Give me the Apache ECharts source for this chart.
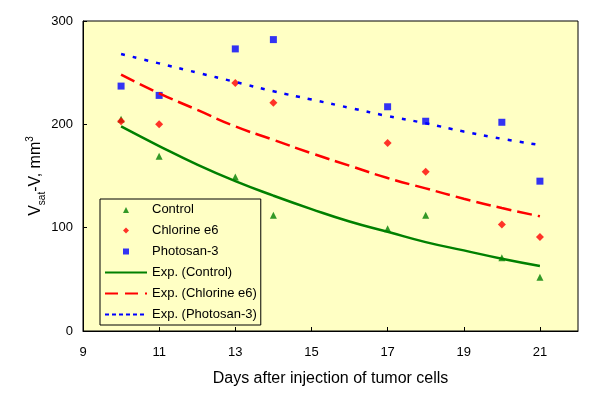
<!DOCTYPE html>
<html>
<head>
<meta charset="utf-8">
<script src="https://cdn.jsdelivr.net/npm/echarts@6/dist/echarts.min.js"></script>
<style>
  html, body { margin: 0; padding: 0; background: #fff; }
  #chart { width: 600px; height: 399px; }
</style>
</head>
<body>
<div id="chart"></div>
<script>
// measured points (day, volume)
var days = [10, 11, 13, 14, 17, 18, 20, 21];
var control = [205, 169, 149, 112, 99, 112, 71, 52];
var chlorine = [203, 200, 240, 221, 182, 154, 103, 91];
var photosan = [237, 228, 273, 282, 217, 203, 202, 145];

// exponential trend lines, one value per day
var trendDays = [10, 11, 12, 13, 14, 15, 16, 17, 18, 19, 20, 21];
var expControl = [198, 179, 161, 145, 131, 118, 106, 96, 86, 78, 70, 63];
var expChlorine = [248, 230, 214, 198, 185, 172, 160, 148, 138, 128, 119, 111];
var expPhotosan = [268, 259, 250, 241, 232, 224, 216, 208, 201, 193, 186, 180];

var xTicks = [9, 11, 13, 15, 17, 19, 21];

function pairs(xs, ys) {
  return xs.map(function (x, i) { return [x, ys[i]]; });
}

// legend markers: the two bare moveTo points span the whole 42x7 icon box,
// so the small marker keeps its size in the middle instead of being stretched
var box = 'path://M0,0M42,7';
var legTriangle = box + 'M18,7L21,1L24,7Z';
var legDiamond = box + 'M21,0.5L24,3.5L21,6.5L18,3.5Z';
var legSquare = box + 'M18,0.5L24,0.5L24,6.5L18,6.5Z';
var hideDot = { opacity: 0 };

var font = 'Liberation Sans, Arial, sans-serif';
var chart = echarts.init(document.getElementById('chart'));

var option = {
  animation: false,
  textStyle: { fontFamily: font },
  grid: {
    show: true,
    left: 83, right: 22, top: 21, bottom: 68,
    backgroundColor: '#ffffc4',
    borderColor: '#000',
    borderWidth: 1
  },
  legend: {
    orient: 'vertical',
    left: 100, top: 199,
    padding: [0, 4, 0, 4],
    itemWidth: 42,
    itemHeight: 7,
    itemGap: 0,
    itemTextGap: 3,
    backgroundColor: '#ffffc4',
    borderColor: '#000',
    borderWidth: 1,
    borderRadius: 0,
    textStyle: { fontFamily: font, fontSize: 13, color: '#000', lineHeight: 21 },
    data: [
      { name: 'Control', icon: legTriangle },
      { name: 'Chlorine e6', icon: legDiamond },
      { name: 'Photosan-3', icon: legSquare },
      { name: 'Exp. (Control)', itemStyle: hideDot },
      { name: 'Exp. (Chlorine e6)', itemStyle: hideDot, lineStyle: { type: [13, 7] } },
      { name: 'Exp. (Photosan-3)', itemStyle: hideDot, lineStyle: { type: [4, 3] } }
    ]
  },
  xAxis: {
    type: 'value',
    min: 9, max: 22,
    name: 'Days after injection of tumor cells',
    nameLocation: 'middle',
    nameGap: 40,
    nameTextStyle: { fontFamily: font, fontSize: 16, color: '#000' },
    axisLine: { lineStyle: { color: '#000', width: 1 } },
    axisTick: { inside: true, length: 4, customValues: xTicks, lineStyle: { color: '#000' } },
    axisLabel: { customValues: xTicks, margin: 15, fontSize: 13, color: '#000', fontFamily: font },
    splitLine: { show: false }
  },
  yAxis: {
    type: 'value',
    min: 0, max: 300, interval: 100,
    name: '{a|V}{s|sat}{a|-V, mm}{p|3}',
    nameLocation: 'middle',
    nameGap: 36,
    nameMoveOverlap: false,
    nameTextStyle: {
      fontFamily: font, color: '#000',
      rich: {
        a: { fontSize: 16, fontFamily: font, color: '#000', lineHeight: 22, verticalAlign: 'middle' },
        s: { fontSize: 10, fontFamily: font, color: '#000', lineHeight: 18, verticalAlign: 'bottom' },
        p: { fontSize: 10, fontFamily: font, color: '#000', lineHeight: 22, verticalAlign: 'top' }
      }
    },
    axisLine: { show: true, lineStyle: { color: '#000', width: 1 } },
    axisTick: { show: true, inside: true, length: 4, lineStyle: { color: '#000' } },
    axisLabel: { margin: 10, fontSize: 13, color: '#000', fontFamily: font },
    splitLine: { show: false }
  },
  series: [
    {
      name: 'Exp. (Control)', type: 'line', symbol: 'none', smooth: true,
      lineStyle: { color: '#008000', width: 2.5 },
      itemStyle: { color: '#008000' },
      data: pairs(trendDays, expControl)
    },
    {
      name: 'Exp. (Chlorine e6)', type: 'line', symbol: 'none', smooth: true,
      lineStyle: { color: '#ff0000', width: 2.5, type: [15, 6] },
      itemStyle: { color: '#ff0000' },
      data: pairs(trendDays, expChlorine)
    },
    {
      name: 'Exp. (Photosan-3)', type: 'line', symbol: 'none', smooth: true,
      lineStyle: { color: '#0000ff', width: 2.5, type: [4, 8] },
      itemStyle: { color: '#0000ff' },
      data: pairs(trendDays, expPhotosan)
    },
    {
      name: 'Control', type: 'scatter', symbol: 'triangle', symbolSize: 7,
      itemStyle: { color: '#008000' },
      data: pairs(days, control)
    },
    {
      name: 'Chlorine e6', type: 'scatter', symbol: 'diamond', symbolSize: 8,
      itemStyle: { color: '#ff0000' },
      data: pairs(days, chlorine)
    },
    {
      name: 'Photosan-3', type: 'scatter', symbol: 'rect', symbolSize: 7,
      itemStyle: { color: '#0000ff' },
      data: pairs(days, photosan)
    }
  ]
};

chart.setOption(option);
</script>
</body>
</html>
